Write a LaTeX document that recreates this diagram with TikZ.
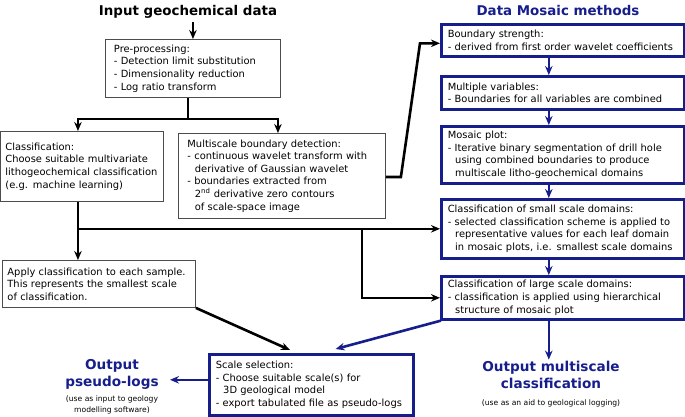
\documentclass[tikz,border=0pt]{standalone}
\usepackage{fontspec}
\setmainfont{DejaVu Sans}
\usetikzlibrary{arrows.meta,calc}
\definecolor{mblue}{RGB}{22,30,140}
\tikzset{
  txt/.style={font=\fontsize{9.9}{12.6}\selectfont},
  bbox/.style={draw=black!70, line width=0.9pt, fill=white, anchor=north west, align=left, inner xsep=5pt, inner ysep=2pt, txt},
  ubox/.style={draw=mblue, line width=2.6pt, fill=white, anchor=north west, align=left, inner xsep=6.5pt, inner ysep=2pt, txt},
  bline/.style={line width=2.6pt, black},
  barrow/.style={bline, -{Stealth[length=9pt,width=7.5pt]}},
  uarrow/.style={line width=2.6pt, mblue, -{Stealth[length=9pt,width=7.5pt]}},
  ttl/.style={font=\fontsize{13.4}{15}\selectfont\bfseries},
  otl/.style={font=\fontsize{13.6}{17}\selectfont\bfseries, text=mblue, align=center},
  sml/.style={font=\fontsize{7.6}{10.5}\selectfont, align=center},
}
\newcommand{\ind}{\hspace*{0.75em}}
\begin{document}
\begin{tikzpicture}[x=1pt,y=-1pt]
\useasboundingbox (0,0) rectangle (685,416);
\node[ttl] (intitle) at (188,12) {Input geochemical data};
\node[ttl, text=mblue] (dmtitle) at (558,10) {Data Mosaic methods};

\node[bbox, inner xsep=8.5pt, minimum width=175, minimum height=58, text width=158] (pre) at (105,39)
 {Pre-processing:\\- Detection limit substitution\\- Dimensionality reduction\\- Log ratio transform};
\node[bbox, minimum width=163, minimum height=70, text width=153] (cls) at (0,131)
 {Classification:\\Choose suitable multivariate\\lithogeochemical classification\\(e.g. machine learning)};
\node[bbox, inner xsep=9pt, minimum width=207, minimum height=85, text width=189] (msb) at (178,133)
 {Multiscale boundary detection:\\- continuous wavelet transform with\\\ind derivative of Gaussian wavelet\\- boundaries extracted from\\\ind 2\textsuperscript{nd} derivative zero contours\\\ind of scale-space image};
\node[bbox, minimum width=193, minimum height=47, text width=183] (apply) at (2,260)
 {Apply classification to each sample.\\This represents the smallest scale\\of classification.};

\node[ubox, minimum width=243, minimum height=32, text width=230] (bstr) at (440,23)
 {Boundary strength:\\- derived from first order wavelet coefficients};
\node[ubox, minimum width=243, minimum height=33, text width=230] (mult) at (440,75)
 {Multiple variables:\\- Boundaries for all variables are combined};
\node[ubox, minimum width=243, minimum height=57, text width=230] (mosaic) at (440,125)
 {Mosaic plot:\\- Iterative binary segmentation of drill hole\\\ind using combined boundaries to produce\\\ind multiscale litho-geochemical domains};
\node[ubox, minimum width=243, minimum height=59, text width=230] (small) at (440,198)
 {Classification of small scale domains:\\- selected classification scheme is applied to\\\ind representative values for each leaf domain\\\ind in mosaic plots, i.e. smallest scale domains};
\node[ubox, minimum width=243, minimum height=43, text width=230] (large) at (440,275)
 {Classification of large scale domains:\\- classification is applied using hierarchical\\\ind structure of mosaic plot};
\node[ubox, minimum width=204, minimum height=61, text width=191] (scale) at (208,353)
 {Scale selection:\\- Choose suitable scale(s) for\\\ind 3D geological model\\- export tabulated file as pseudo-logs};

\node[otl] (outpl) at (112,374) {Output\\pseudo-logs};
\node[sml] (outplnote) at (112,405) {(use as input to geology\\modelling software)};
\node[otl] (outms) at (551,375) {Output multiscale\\classification};
\node[sml] (outmsnote) at (551,403) {(use as an aid to geological logging)};

% black connectors
\draw[barrow] (pre.north |- intitle.south) -- (pre.north);
\coordinate (sp) at ($(pre.south)+(-5,21)$);
\draw[bline] ($(pre.south)+(-5,0)$) -- (sp);
\draw[barrow] ($(sp)+(1.3,0)$) -| ($(cls.north)+(-4,0)$);
\draw[barrow] ($(sp)+(-1.3,0)$) -| ($(msb.north)+(-4,0)$);
\coordinate (cb) at ($(cls.south)+(-4,0)$);
\draw[barrow] (cb) -- (cb |- apply.north);
\draw[barrow] (cb) |- (small.west);
\coordinate (br) at (362,0);
\draw[barrow] (br |- small.west) |- (large.west);
\draw[barrow] ([yshift=-1]msb.east) -- ++(15,0) -- ($(bstr.west)+(-20,3)$) -- ($(bstr.west)+(0,3)$);
\draw[barrow] (apply.south east) -- ($(scale.north west)+(82,-3)$);

% blue connectors
\draw[uarrow] ($(bstr.south)+(-14,0)$) -- ($(mult.north)+(-14,0)$);
\draw[uarrow] ($(mult.south)+(-14,0)$) -- ($(mosaic.north)+(-14,0)$);
\draw[uarrow] ($(mosaic.south)+(-14,0)$) -- ($(small.north)+(-14,0)$);
\draw[uarrow] ($(small.south)+(-14,0)$) -- ($(large.north)+(-14,0)$);
\draw[uarrow] ($(large.south)+(-14,0)$) -- ++(0,39) coordinate (msin);
\draw[uarrow] ([xshift=1]large.south west) -- ($(scale.north east)+(-79,-4)$);
\draw[uarrow] ([yshift=5]scale.west) -- ++(-38,0) coordinate (plin);
\end{tikzpicture}
\end{document}
